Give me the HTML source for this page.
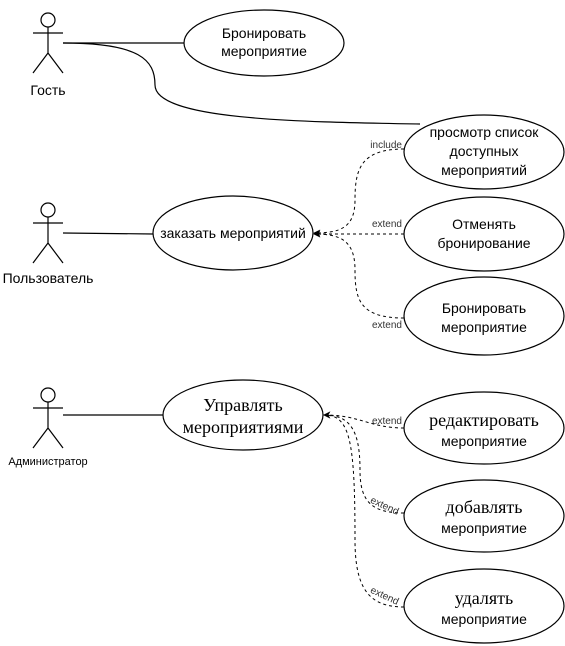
<!DOCTYPE html>
<html><head><meta charset="utf-8"><style>body{margin:0;background:#fff}svg{display:block}</style></head><body>
<svg width="565" height="646" viewBox="0 0 565 646" xmlns="http://www.w3.org/2000/svg" font-family="Liberation Sans, sans-serif">
<defs><marker id="a" viewBox="0 0 10 10" refX="9" refY="5" markerWidth="7" markerHeight="7" orient="auto"><path d="M0,0 L10,5 L0,10 L3,5z" fill="#000"/></marker></defs>
<g fill="#fff" stroke="#000" stroke-width="1.2">
<circle cx="48" cy="20" r="7"/><circle cx="48" cy="210" r="7"/><circle cx="48" cy="395" r="7"/>
</g>
<g stroke="#000" stroke-width="1.2" fill="none">
<path d="M48,27V53M33,33H63M48,53L33,73M48,53L63,73"/>
<path d="M48,217V243M33,223H63M48,243L33,263M48,243L63,263"/>
<path d="M48,402V428M33,408H63M48,428L33,448M48,428L63,448"/>
<path d="M63,43H184"/>
<path d="M63,43C140,43 155,60 155,85 C155,120 300,122 420,124"/>
<path d="M63,233L153,234"/>
<path d="M63,415H163"/>
<ellipse cx="264" cy="43" rx="80" ry="33" fill="#fff"/>
<ellipse cx="484" cy="152" rx="80" ry="37" fill="#fff"/>
<ellipse cx="233" cy="233" rx="80" ry="37" fill="#fff"/>
<ellipse cx="484" cy="234" rx="80" ry="37" fill="#fff"/>
<ellipse cx="484" cy="316" rx="80" ry="39" fill="#fff"/>
<ellipse cx="243" cy="415" rx="80" ry="35" fill="#fff"/>
<ellipse cx="484" cy="428" rx="80" ry="36" fill="#fff"/>
<ellipse cx="484" cy="516" rx="80" ry="36" fill="#fff"/>
<ellipse cx="484" cy="606" rx="80" ry="37" fill="#fff"/>
</g>
<g stroke="#000" stroke-width="1" fill="none" stroke-dasharray="3,3" marker-end="url(#a)">
<path d="M404,149C360,149 355,170 355,200 C355,228 340,233 314,233"/>
<path d="M404,234H314"/>
<path d="M404,318C360,318 355,300 355,270 C355,240 340,234 314,234"/>
<path d="M404,428C370,428 360,415 324,415"/>
<path d="M404,513C370,513 360,500 360,470 C360,430 350,415 324,415"/>
<path d="M404,607C370,607 355,590 355,540 C355,440 350,415 324,415"/>
</g>
<g font-size="10" fill="#333" text-anchor="end">
<text x="402" y="148">include</text>
<text x="402" y="227">extend</text>
<text x="402" y="328">extend</text>
<text x="402" y="424">extend</text>
<text x="400" y="509" transform="rotate(25 385 505)">extend</text>
<text x="400" y="599" transform="rotate(25 385 595)">extend</text>
</g>
<g font-size="14" fill="#000" text-anchor="middle">
<text x="48" y="95">Гость</text>
<text x="48" y="283">Пользователь</text>
<text x="48" y="465" font-size="11">Администратор</text>
<text x="264" y="38">Бронировать</text><text x="264" y="56">мероприятие</text>
<text x="484" y="137">просмотр список</text><text x="484" y="156">доступных</text><text x="484" y="175">мероприятий</text>
<text x="233" y="238">заказать мероприятий</text>
<text x="484" y="229">Отменять</text><text x="484" y="248">бронирование</text>
<text x="484" y="313">Бронировать</text><text x="484" y="332">мероприятие</text>
<g font-family="Liberation Serif, serif" font-size="18"><text x="243" y="411">Управлять</text><text x="243" y="433">мероприятиями</text>
<text x="484" y="426">редактировать</text><text x="484" y="513">добавлять</text><text x="484" y="604">удалять</text></g>
<text x="484" y="446">мероприятие</text>
<text x="484" y="533">мероприятие</text>
<text x="484" y="624">мероприятие</text>
</g>
</svg>
</body></html>
